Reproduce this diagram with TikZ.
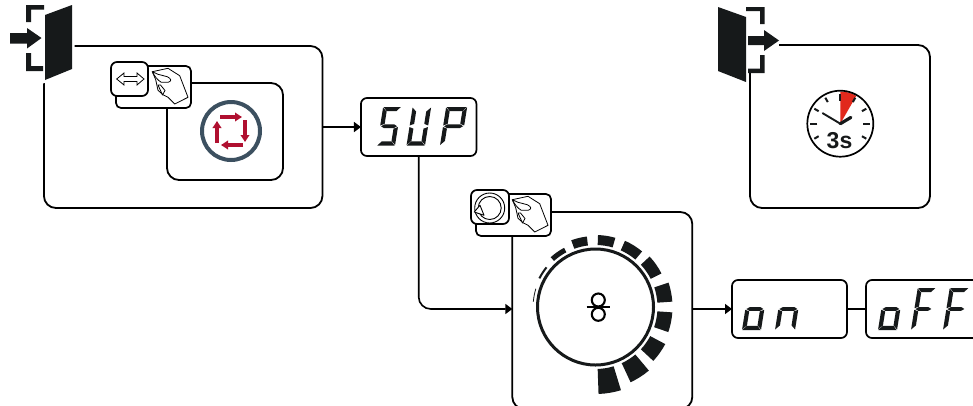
\documentclass[tikz,border=0pt]{standalone}
\usepackage{fontspec}
\setmainfont{Liberation Sans}
\usetikzlibrary{arrows.meta}
\definecolor{ink}{HTML}{16191A}
\definecolor{slate}{HTML}{3C5060}
\definecolor{wine}{HTML}{B01030}
\definecolor{flame}{HTML}{E1291C}
\tikzset{
  panel/.style={draw=black,line width=1.8pt,rounded corners=12pt,inner sep=0,outer sep=0,fill=white},
  display/.style={draw=black,line width=1.7pt,rounded corners=6pt,inner sep=0,outer sep=0,fill=white,minimum height=58pt},
  conn/.style={draw=black,line width=1.6pt},
  tip/.style={-{Triangle[length=7pt,width=10pt]}},
  thin icon/.style={draw=black,line width=.8pt,fill=white},
  btn/.style={draw=black,line width=1.7pt,fill=white},
  redarrow/.style={draw=wine,line width=3.5pt,-{Triangle[length=7pt,width=8.5pt]}},
  tick/.style={draw=ink,line width=2pt},
}
% seven-segment glyph: x, baseline y, width, height, list of segments
\def\st{4.2}
\newcommand\segdraw[1]{%
 \ifx#1a\fill[ink] (.5,{-\sh}) -- ({\sw-.3},{-\sh}) -- ({\sw-\st},{-\sh+\st}) -- (\st,{-\sh+\st}) -- cycle;\fi
 \ifx#1d\fill[ink] (.3,0) -- ({\sw-.5},0) -- ({\sw-\st},{-\st}) -- (\st,{-\st}) -- cycle;\fi
 \ifx#1g\fill[ink] (1,{-\sh/2}) -- (\st,{-\sh/2-1.9}) -- ({\sw-\st},{-\sh/2-1.9}) -- ({\sw-1},{-\sh/2}) -- ({\sw-\st},{-\sh/2+1.9}) -- (\st,{-\sh/2+1.9}) -- cycle;\fi
 \ifx#1f\fill[ink] (0,{-\sh+.5}) -- (\st,{-\sh+\st+.4}) -- (\st,{-\sh/2-2.4}) -- (0,{-\sh/2-.8}) -- cycle;\fi
 \ifx#1e\fill[ink] (0,{-.5}) -- (\st,{-\st-.4}) -- (\st,{-\sh/2+2.4}) -- (0,{-\sh/2+.8}) -- cycle;\fi
 \ifx#1b\fill[ink] (\sw,{-\sh+.5}) -- ({\sw-\st},{-\sh+\st+.4}) -- ({\sw-\st},{-\sh/2-2.4}) -- (\sw,{-\sh/2-.8}) -- cycle;\fi
 \ifx#1c\fill[ink] (\sw,{-.5}) -- ({\sw-\st},{-\st-.4}) -- ({\sw-\st},{-\sh/2+2.4}) -- (\sw,{-\sh/2+.8}) -- cycle;\fi
}
\newcommand\sevenseg[5]{%
 \begin{scope}[shift={(#1,#2)},xslant=.16]
  \def\sw{#3}\def\sh{#4}
  \foreach \s in {#5}{\expandafter\segdraw\expandafter{\s}}
 \end{scope}}
\newcommand\handicon[2]{%
 \begin{scope}[shift={(#1,#2)}]
  \draw[thin icon,line join=round] (152.3,71.7) -- (168,68.3) -- (179.7,75.7) -- (188,97.3) -- (174.7,104) -- (168,97.3) -- (163,94.7) -- (158,90.3) -- (155.7,79.7) -- cycle;
  \draw[thin icon,line join=round] (152.3,71.7) .. controls (154,75) and (157,80) .. (161.3,82.3) -- (168,82.3) .. controls (171.5,81.5) and (172,79) .. (167.3,76.7) -- (158,74.3) -- cycle;
  \draw[thin icon,line join=round] (158,85) -- (162.5,95) -- (165,90.5) -- (160.5,85) -- cycle;
 \end{scope}}
\begin{document}
\begin{tikzpicture}[x=1pt,y=-1pt]
\clip (0,0) rectangle (973,405);
\fill[white] (0,0) rectangle (973,405);
% panels
\node[panel,minimum width=278.5pt,minimum height=162pt] (outerA) at (183.2,127) {};
\node[panel,minimum width=116pt,minimum height=97pt] (innerA) at (225,131.5) {};
\node[panel,minimum width=180pt,minimum height=197pt] (panelB) at (602.3,310.5) {};
\node[panel,minimum width=180pt,minimum height=163pt] (panelC) at (840,126.5) {};
% displays
\node[display,minimum width=115.5pt] (sup) at (418.7,127) {};
\node[display,minimum width=115pt] (on) at (789.5,309) {};
\node[display,minimum width=116pt] (off) at (924,309) {};
% connectors
\draw[conn,tip] (outerA.east) -- (sup.west);
\draw[conn,tip,rounded corners=12pt] (sup.south) |- (panelB.west |- on.west);
\draw[conn,tip] (panelB.east |- on.west) -- (on.west);
\draw[conn] (on.east) -- (off.west);
% seven segment glyphs
\sevenseg{377}{145.5}{18}{38.5}{a,f,g,c,d}
\sevenseg{406.5}{145.5}{18.5}{38.5}{f,b,e,c,d}
\sevenseg{440}{145.5}{21}{38.5}{a,f,b,g,e}
\sevenseg{742}{330}{19}{42}{g,e,c,d}
\sevenseg{775}{330}{20}{42}{g,e,c}
\sevenseg{878}{330}{19}{42}{g,e,c,d}
\sevenseg{911}{330}{18}{42}{a,f,g,e}
\sevenseg{943}{330}{19}{42}{a,f,g,e}
% entry door
\draw[white,line width=5pt,line join=miter,fill=white] (45,15) -- (72,5) -- (72,69) -- (45,80) -- cycle;
\fill[ink] (45,15) -- (72,5) -- (72,69) -- (45,80) -- cycle;
\fill[ink] (26,5) -- (44,5) -- (44,9.5) -- (31,9.5) -- (31,22) -- (26,22) -- cycle;
\fill[ink] (26,53) -- (31,53) -- (31,66) -- (43,66) -- (43,71) -- (26,71) -- cycle;
\fill[ink] (10,33) -- (27,33) -- (27,28) -- (41.5,38) -- (27,48.5) -- (27,43.5) -- (10,43.5) -- cycle;
% button A
\draw[btn,rounded corners=5pt] (116,66) rectangle (191,108);
\handicon{0}{0}
\draw[btn,rounded corners=6pt] (111,62) rectangle (148,96);
\draw[thin icon] (116.7,79) -- (124,73) -- (124,76.5) -- (137,76.5) -- (137,73) -- (144,79) -- (137,85) -- (137,81.5) -- (124,81.5) -- (124,85) -- cycle;
% cycle symbol
\draw[slate,line width=4pt] (231,131) circle[radius=29pt];
\draw[redarrow] (220,117) -- (242,117);
\draw[redarrow] (245,120) -- (245,142);
\draw[redarrow] (243,145) -- (221,145);
\draw[redarrow] (217,143) -- (217,121);
% button B
\draw[btn,rounded corners=5pt] (476,194) rectangle (551,236);
\handicon{360}{128}
\draw[btn,rounded corners=6pt] (471,190) rectangle (509,224);
\draw[black,line width=.9pt] (489.7,208) circle[radius=15pt];
\draw[black,line width=.9pt] (489.7,208) circle[radius=11.5pt];
\draw[thin icon,line join=round,line width=.9pt] (474.2,212) -- (480,205.3) -- (484,215.3) -- cycle;
% dial
\draw[ink,line width=3pt] (595.5,307) circle[radius=58pt];
\foreach \aa/\ab/\rr in {163/175/62.8,141/153/64,118/132/67,97/110/71,74/88/72,50/66/72.5,27/43/74,4/18.5/77,-19/-4/77,-43/-28/79,-65/-50/83,-88/-73/87}{
  \fill[ink,shift={(595.5,307)}] (\aa:62pt) arc[start angle=\aa,end angle=\ab,radius=62pt] -- (\ab:\rr pt) arc[start angle=\ab,end angle=\aa,radius=\rr pt] -- cycle;
}
% knob symbol
\draw[black,line width=2.1pt] (598.3,300) circle[radius=6.5pt];
\draw[black,line width=2.1pt] (598.3,314.3) circle[radius=6.5pt];
\draw[black,line width=2pt] (586.7,306.8) -- (610,306.8);
% exit door
\fill[white] (745,40) rectangle (778.5,73);
\fill[ink] (718,7) -- (746,17) -- (746,82) -- (718,71) -- cycle;
\fill[ink] (746,7) -- (764.5,7) -- (764.5,24) -- (760,24) -- (760,11) -- (746,11) -- cycle;
\fill[ink] (760,55) -- (764.5,55) -- (764.5,73) -- (748,73) -- (748,68.5) -- (760,68.5) -- cycle;
\fill[ink] (748,36) -- (764,36) -- (764,30) -- (779,40.5) -- (764,51) -- (764,45) -- (748,45) -- cycle;
% clock
\fill[flame] (840.3,123.7) -- (840.3,91.5) arc[start angle=90,end angle=60,radius=32pt] -- cycle;
\draw[black,line width=1.7pt] (840.3,123.7) circle[radius=33pt];
\foreach \t/\ra/\rb in {90/23/30,60/25/30,30/25/30,0/23/30,-30/25/30,-150/25/30,180/23/30,150/25/30,120/25/30}{
  \draw[tick,shift={(840.3,123.7)}] (\t:\ra pt) -- (\t:\rb pt);
}
\draw[ink,line width=1.9pt,line cap=round] (840.3,123.7) -- (822.7,113.2);
\draw[ink,line width=3.2pt,line cap=round] (840.3,123.7) -- (850.9,117.4);
\node[inner sep=0,font=\bfseries\fontsize{23pt}{23pt}\selectfont,text=ink] (clocktext) at (839.5,141) {3s};
\end{tikzpicture}
\end{document}
